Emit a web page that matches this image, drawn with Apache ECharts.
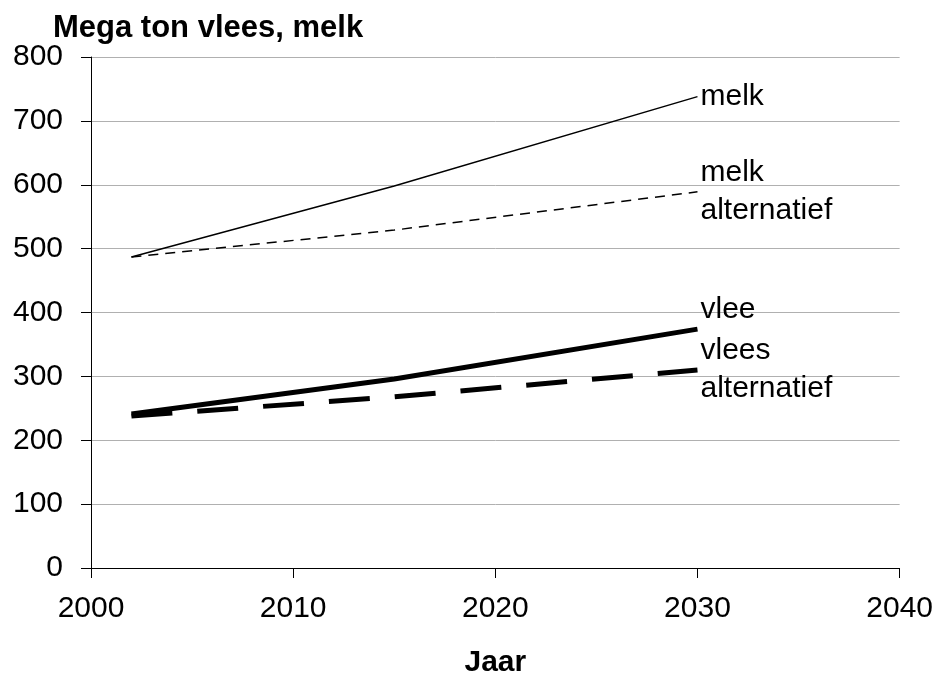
<!DOCTYPE html>
<html>
<head>
<meta charset="utf-8">
<script src="https://cdn.jsdelivr.net/npm/echarts@6/dist/echarts.min.js"></script>
<style>
  html, body { margin: 0; padding: 0; background: #fff; }
  #chart { width: 936px; height: 684px; }
</style>
</head>
<body>
<div id="chart"></div>
<script>
// jaren waarop de reeksen gegeven zijn
const years = [2002, 2015, 2030];

// Mega ton
const melk = [487, 598, 738];
const melkAlt = [487, 529, 589];
const vlees = [241, 296, 374];
const vleesAlt = [238, 268, 310];

const labels = ['melk', 'melk\nalternatief', 'vlee', 'vlees\nalternatief'];

const FONT = '"Liberation Sans", Arial, sans-serif';

const toPoints = vals => vals.map((v, i) => [years[i], v]);

const chart = echarts.init(document.getElementById('chart'));

const endLabel = (text, offset) => ({
  show: true,
  formatter: () => text,
  color: '#000',
  fontFamily: FONT,
  fontSize: 30,
  lineHeight: 38,
  distance: 3,
  offset: offset || [0, 0],
});

chart.setOption({
  animation: false,
  backgroundColor: '#fff',
  title: {
    text: 'Mega ton vlees, melk',
    left: 48,
    top: 8,
    textStyle: { fontFamily: FONT, fontSize: 31, fontWeight: 'bold', color: '#000' },
  },
  grid: { left: 91, right: 34, top: 57, bottom: 116 },
  xAxis: {
    type: 'value',
    min: 2000,
    max: 2040,
    interval: 10,
    name: 'Jaar',
    nameLocation: 'middle',
    nameGap: 80,
    nameTextStyle: { fontFamily: FONT, fontSize: 30, fontWeight: 'bold', color: '#000' },
    axisLine: { lineStyle: { color: '#000', width: 1 } },
    axisTick: { show: true, length: 10, lineStyle: { color: '#000' } },
    axisLabel: { fontFamily: FONT, fontSize: 30, color: '#000', margin: 26, formatter: v => String(v) },
    splitLine: { show: false },
  },
  yAxis: {
    type: 'value',
    min: 0,
    max: 800,
    interval: 100,
    axisLine: { show: true, lineStyle: { color: '#000', width: 1 } },
    axisTick: { show: true, length: 10, lineStyle: { color: '#000' } },
    axisLabel: { fontFamily: FONT, fontSize: 30, color: '#000', margin: 28 },
    splitLine: { show: true, lineStyle: { color: '#b0b0b0', width: 1 } },
  },
  series: [
    {
      name: 'melk',
      type: 'line',
      data: toPoints(melk),
      showSymbol: false,
      lineStyle: { color: '#000', width: 1.5 },
      endLabel: endLabel(labels[0]),
    },
    {
      name: 'melk alternatief',
      type: 'line',
      data: toPoints(melkAlt),
      showSymbol: false,
      lineStyle: { color: '#000', width: 1.5, type: [10, 7] },
      endLabel: endLabel(labels[1]),
    },
    {
      name: 'vlees',
      type: 'line',
      data: toPoints(vlees),
      showSymbol: false,
      lineStyle: { color: '#000', width: 5 },
      endLabel: endLabel(labels[2], [0, -19]),
    },
    {
      name: 'vlees alternatief',
      type: 'line',
      data: toPoints(vleesAlt),
      showSymbol: false,
      lineStyle: { color: '#000', width: 5, type: [41, 25] },
      endLabel: endLabel(labels[3]),
    },
  ],
});
</script>
</body>
</html>
